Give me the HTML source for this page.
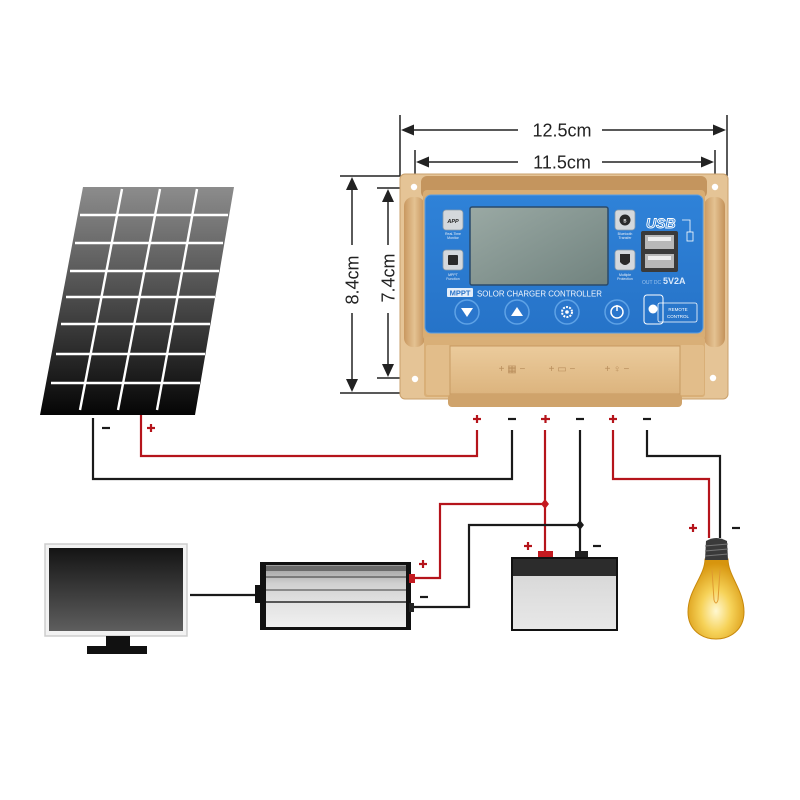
<!DOCTYPE html>
<html><head><meta charset="utf-8"><style>
html,body{margin:0;padding:0;background:#fff;}
svg{display:block;}
text{font-family:"Liberation Sans",sans-serif;}
</style></head><body>
<svg width="800" height="800" viewBox="0 0 800 800" xmlns="http://www.w3.org/2000/svg">
<defs>
<linearGradient id="pv" x1="0" y1="0" x2="0" y2="1">
<stop offset="0" stop-color="#8c8c8c"/><stop offset="0.5" stop-color="#4a4a4a"/><stop offset="1" stop-color="#050505"/>
</linearGradient>
<linearGradient id="scr" x1="0" y1="0" x2="0" y2="1">
<stop offset="0" stop-color="#141414"/><stop offset="1" stop-color="#5e5e5e"/>
</linearGradient>
<linearGradient id="blue" x1="0" y1="0" x2="0" y2="1">
<stop offset="0" stop-color="#2f82d8"/><stop offset="1" stop-color="#2673c8"/>
</linearGradient>
<linearGradient id="lcd" x1="0" y1="0" x2="1" y2="1">
<stop offset="0" stop-color="#9aa9a4"/><stop offset="1" stop-color="#71837f"/>
</linearGradient>
<linearGradient id="gold" x1="0" y1="0" x2="0" y2="1">
<stop offset="0" stop-color="#e6c699"/><stop offset="1" stop-color="#d4a86e"/>
</linearGradient>
<linearGradient id="cover" x1="0" y1="0" x2="0" y2="1">
<stop offset="0" stop-color="#ebcb9c"/><stop offset="1" stop-color="#dcb47e"/>
</linearGradient>
<linearGradient id="bar" x1="0" y1="0" x2="1" y2="0">
<stop offset="0" stop-color="#c99860"/><stop offset="0.5" stop-color="#e4c292"/><stop offset="1" stop-color="#c4925a"/>
</linearGradient>
<linearGradient id="batt" x1="0" y1="0" x2="0" y2="1">
<stop offset="0" stop-color="#d4d4d4"/><stop offset="1" stop-color="#e8e8e8"/>
</linearGradient>
<linearGradient id="inv" x1="0" y1="0" x2="0" y2="1">
<stop offset="0" stop-color="#9a9a9a"/><stop offset="0.3" stop-color="#d0d0d0"/><stop offset="0.6" stop-color="#e2e2e2"/><stop offset="1" stop-color="#f0f0f0"/>
</linearGradient>
<radialGradient id="bulb" cx="0.5" cy="0.65" r="0.6">
<stop offset="0" stop-color="#fff8d0"/><stop offset="0.45" stop-color="#f6d258"/><stop offset="1" stop-color="#d7950e"/>
</radialGradient>
</defs>

<!-- ===== Solar panel ===== -->
<polygon points="83,187 234,187 195,415 40,415" fill="url(#pv)"/>
<g stroke="#fff" stroke-width="2.4">
<line x1="80" y1="215" x2="228" y2="215"/>
<line x1="75" y1="243" x2="223" y2="243"/>
<line x1="70" y1="271" x2="219" y2="271"/>
<line x1="66" y1="297" x2="215" y2="297"/>
<line x1="61" y1="324" x2="210" y2="324"/>
<line x1="56" y1="354" x2="205" y2="354"/>
<line x1="51" y1="383" x2="200" y2="383"/>
<line x1="122" y1="189" x2="80" y2="410"/>
<line x1="160" y1="189" x2="118" y2="410"/>
<line x1="197" y1="189" x2="157" y2="410"/>
</g>

<!-- ===== Dimension lines ===== -->
<g stroke="#222" stroke-width="1.5" fill="none">
<polyline points="400,115 400,176 340,176"/>
<line x1="727" y1="115" x2="727" y2="176"/>
<polyline points="415,150 415,188 377,188"/>
<line x1="715" y1="150" x2="715" y2="186"/>
<line x1="340" y1="393" x2="423" y2="393"/>
<line x1="377" y1="378" x2="412" y2="378"/>
<line x1="410" y1="130" x2="518" y2="130"/><line x1="602" y1="130" x2="718" y2="130"/>
<line x1="424" y1="162" x2="518" y2="162"/><line x1="602" y1="162" x2="706" y2="162"/>
<line x1="352" y1="186" x2="352" y2="245"/><line x1="352" y1="313" x2="352" y2="383"/>
<line x1="388" y1="198" x2="388" y2="245"/><line x1="388" y1="313" x2="388" y2="368"/>
</g>
<g fill="#222">
<polygon points="401,130 414,124.5 414,135.5"/>
<polygon points="726,130 713,124.5 713,135.5"/>
<polygon points="416,162 429,156.5 429,167.5"/>
<polygon points="714,162 701,156.5 701,167.5"/>
<polygon points="352,177 346,190 358,190"/>
<polygon points="352,392 346,379 358,379"/>
<polygon points="388,189 382,202 394,202"/>
<polygon points="388,377 382,364 394,364"/>
</g>
<g font-size="18" fill="#222" text-anchor="middle">
<text x="562" y="136.5">12.5cm</text>
<text x="562" y="168.5">11.5cm</text>
<text transform="translate(358.5,280) rotate(-90)">8.4cm</text>
<text transform="translate(394.5,278) rotate(-90)">7.4cm</text>
</g>

<!-- ===== Controller ===== -->
<rect x="400" y="174" width="328" height="225" rx="5" fill="#e5c496" stroke="#c9a06c" stroke-width="1"/>
<rect x="404" y="197" width="21" height="150" rx="9" fill="url(#bar)"/>
<rect x="704" y="197" width="21" height="150" rx="9" fill="url(#bar)"/>
<rect x="421" y="176" width="286" height="22" rx="6" fill="#c4955e"/>
<rect x="423" y="190" width="282" height="150" rx="4" fill="#d8ad74"/>
<rect x="425" y="195" width="278" height="138" rx="6" fill="url(#blue)" stroke="#5a9ee4" stroke-width="1"/>
<!-- LCD -->
<rect x="470" y="207" width="138" height="78" rx="2" fill="url(#lcd)" stroke="#2a4a6a" stroke-width="1.5"/>
<!-- left buttons -->
<rect x="443" y="210" width="20" height="20" rx="3" fill="#d4d8dc" stroke="#8a9aa8" stroke-width="0.8"/>
<text x="453" y="223" font-size="5.5" font-weight="bold" font-style="italic" fill="#222" text-anchor="middle">APP</text>
<text x="453" y="235" font-size="3.5" fill="#e8eef6" text-anchor="middle">Real-Time</text>
<text x="453" y="239" font-size="3.5" fill="#e8eef6" text-anchor="middle">Monitor</text>
<rect x="443" y="250" width="20" height="20" rx="3" fill="#d4d8dc" stroke="#8a9aa8" stroke-width="0.8"/>
<rect x="448" y="255" width="10" height="10" rx="1" fill="#2a2a2a"/>
<text x="453" y="276" font-size="3.5" fill="#e8eef6" text-anchor="middle">MPPT</text>
<text x="453" y="280" font-size="3.5" fill="#e8eef6" text-anchor="middle">Function</text>
<!-- right buttons -->
<rect x="615" y="210" width="20" height="20" rx="3" fill="#d4d8dc" stroke="#8a9aa8" stroke-width="0.8"/>
<circle cx="625" cy="220" r="5.5" fill="#2a2a2a"/><text x="625" y="222.5" font-size="6" fill="#fff" text-anchor="middle">ʙ</text>
<text x="625" y="235" font-size="3.5" fill="#e8eef6" text-anchor="middle">Bluetooth</text>
<text x="625" y="239" font-size="3.5" fill="#e8eef6" text-anchor="middle">Transfer</text>
<rect x="615" y="250" width="20" height="20" rx="3" fill="#d4d8dc" stroke="#8a9aa8" stroke-width="0.8"/>
<path d="M620,254 L630,254 L630,262 Q625,268 620,262 Z" fill="#2a2a2a"/>
<text x="625" y="276" font-size="3.5" fill="#e8eef6" text-anchor="middle">Multiple</text>
<text x="625" y="280" font-size="3.5" fill="#e8eef6" text-anchor="middle">Protection</text>
<!-- USB -->
<text x="646" y="228" font-size="14" font-style="italic" font-weight="bold" fill="none" stroke="#fff" stroke-width="0.9">USB</text>
<polyline points="682,220 690,220 690,232" fill="none" stroke="#fff" stroke-width="0.8"/>
<rect x="687" y="232" width="6" height="9" fill="none" stroke="#fff" stroke-width="0.8"/>
<rect x="641" y="231" width="37" height="41" rx="2" fill="#3a3a3a"/>
<rect x="645" y="235" width="29" height="14" fill="#b8b8b8"/><rect x="648" y="237" width="23" height="4" fill="#eee"/>
<rect x="645" y="254" width="29" height="14" fill="#b8b8b8"/><rect x="648" y="256" width="23" height="4" fill="#eee"/>
<text x="642" y="284" font-size="5" fill="#9cc4ee">OUT DC</text>
<text x="663" y="284" font-size="9" font-weight="bold" fill="#dbe9fa">5V2A</text>
<!-- MPPT title -->
<rect x="447" y="288" width="26" height="9" rx="1" fill="#e4eefa"/>
<text x="460" y="295.5" font-size="7.5" font-weight="bold" fill="#2a74c8" text-anchor="middle">MPPT</text>
<text x="477" y="296.5" font-size="8.5" fill="#f2f6fc" textLength="125" lengthAdjust="spacingAndGlyphs">SOLOR CHARGER CONTROLLER</text>
<!-- round buttons -->
<g>
<circle cx="467" cy="312" r="12" fill="#2a76cc" stroke="#5ea2e6" stroke-width="1.5"/>
<polygon points="461,308 473,308 467,317" fill="#fff"/>
<circle cx="517" cy="312" r="12" fill="#2a76cc" stroke="#5ea2e6" stroke-width="1.5"/>
<polygon points="511,316 523,316 517,307" fill="#fff"/>
<circle cx="567" cy="312" r="12" fill="#2a76cc" stroke="#5ea2e6" stroke-width="1.5"/>
<circle cx="567" cy="312" r="5" fill="none" stroke="#fff" stroke-width="2" stroke-dasharray="2,1.2"/>
<circle cx="567" cy="312" r="1.8" fill="#fff"/>
<circle cx="617" cy="312" r="12" fill="#2a76cc" stroke="#5ea2e6" stroke-width="1.5"/>
<circle cx="617" cy="312" r="6" fill="none" stroke="#fff" stroke-width="1.5"/>
<line x1="617" y1="305" x2="617" y2="311" stroke="#fff" stroke-width="1.5"/>
</g>
<!-- remote control -->
<rect x="644" y="295" width="19" height="29" rx="3" fill="none" stroke="#fff" stroke-width="1"/>
<rect x="658" y="303" width="39" height="19" rx="2" fill="none" stroke="#fff" stroke-width="0.8"/>
<circle cx="653" cy="309" r="4.5" fill="#fff"/>
<text x="678" y="311" font-size="4.5" fill="#fff" text-anchor="middle">REMOTE</text>
<text x="678" y="318" font-size="4.5" fill="#fff" text-anchor="middle">CONTROL</text>
<!-- lower part -->
<rect x="424" y="337" width="281" height="60" rx="3" fill="#d9af77"/>
<rect x="426" y="345" width="24" height="50" rx="2" fill="#e2bd8a"/>
<rect x="680" y="345" width="24" height="50" rx="2" fill="#e2bd8a"/>
<rect x="450" y="346" width="230" height="48" fill="url(#cover)" stroke="#c79a62" stroke-width="1"/>
<rect x="448" y="394" width="234" height="13" rx="4" fill="#cfa36b"/>
<g fill="#b98e5c" font-size="10" text-anchor="middle">
<text x="512" y="372">+ ▦ −</text>
<text x="562" y="372">+ ▭ −</text>
<text x="617" y="372">+ ♀ −</text>
</g>
<!-- holes -->
<g fill="#fff"><circle cx="414" cy="187" r="3.2"/><circle cx="715" cy="187" r="3.2"/><circle cx="415" cy="379" r="3.2"/><circle cx="713" cy="378" r="3.2"/></g>

<!-- ===== Wires ===== -->
<g fill="none" stroke-width="2.2" stroke-linejoin="miter">
<polyline points="93,418 93,479 512,479 512,430" stroke="#1a1a1a"/>
<polyline points="141,415 141,456 477,456 477,430" stroke="#b5141b"/>
<line x1="545" y1="430" x2="545" y2="552" stroke="#b5141b"/>
<polyline points="545,504 440,504 440,578 414,578" stroke="#b5141b"/>
<line x1="580" y1="430" x2="580" y2="552" stroke="#1a1a1a"/>
<polyline points="580,525 469,525 469,607 414,607" stroke="#1a1a1a"/>
<polyline points="613,430 613,479 709,479 709,538" stroke="#b5141b"/>
<polyline points="647,430 647,456 720,456 720,538" stroke="#1a1a1a"/>
<line x1="190" y1="595" x2="258" y2="595" stroke="#1a1a1a"/>
</g>
<polygon points="545,499 549,504 545,509 541,504" fill="#c41a20"/>
<polygon points="580,520 584,525 580,530 576,525" fill="#1a1a1a"/>

<!-- +/- labels -->
<g stroke-width="2.2">
<g stroke="#b5141b">
<line x1="147" y1="428" x2="155" y2="428"/><line x1="151" y1="424" x2="151" y2="432"/>
<line x1="473" y1="419" x2="481" y2="419"/><line x1="477" y1="415" x2="477" y2="423"/>
<line x1="541" y1="419" x2="550" y2="419"/><line x1="545.5" y1="415" x2="545.5" y2="423"/>
<line x1="609" y1="419" x2="617" y2="419"/><line x1="613" y1="415" x2="613" y2="423"/>
<line x1="524" y1="546" x2="532" y2="546"/><line x1="528" y1="542" x2="528" y2="550"/>
<line x1="419" y1="564" x2="427" y2="564"/><line x1="423" y1="560" x2="423" y2="568"/>
<line x1="689" y1="528" x2="697" y2="528"/><line x1="693" y1="524" x2="693" y2="532"/>
</g>
<g stroke="#1a1a1a">
<line x1="102" y1="428" x2="110" y2="428"/>
<line x1="508" y1="419" x2="516" y2="419"/>
<line x1="576" y1="419" x2="584" y2="419"/>
<line x1="643" y1="419" x2="651" y2="419"/>
<line x1="593" y1="546" x2="601" y2="546"/>
<line x1="420" y1="597" x2="428" y2="597"/>
<line x1="732" y1="528" x2="740" y2="528"/>
</g>
</g>

<!-- ===== Monitor ===== -->
<rect x="45" y="544" width="142" height="92" fill="#f2f2f2" stroke="#cdcdcd" stroke-width="1.5"/>
<rect x="49" y="548" width="134" height="83" fill="url(#scr)"/>
<rect x="106" y="636" width="24" height="11" fill="#111"/>
<rect x="87" y="646" width="60" height="8" fill="#111"/>

<!-- ===== Inverter ===== -->
<rect x="255" y="585" width="7" height="18" fill="#111"/>
<rect x="260" y="562" width="151" height="68" fill="#111"/>
<rect x="266" y="565" width="140" height="62" fill="url(#inv)"/>
<rect x="266" y="566" width="140" height="5" fill="#6a6a6a"/>
<rect x="266" y="576" width="140" height="2" fill="#7a7a7a"/>
<rect x="266" y="589" width="140" height="2" fill="#8a8a8a"/>
<rect x="266" y="601" width="140" height="2" fill="#555"/>
<rect x="409" y="574" width="6" height="9" fill="#c41a20"/>
<rect x="409" y="603" width="5" height="9" fill="#222"/>

<!-- ===== Battery ===== -->
<rect x="538" y="551" width="15" height="8" fill="#c41a20"/>
<rect x="575" y="551" width="13" height="8" fill="#222"/>
<rect x="512" y="558" width="105" height="72" fill="url(#batt)" stroke="#111" stroke-width="2"/>
<rect x="513" y="559" width="103" height="17" fill="#2c2c2c"/>

<!-- ===== Bulb ===== -->
<path d="M705,559 C705,576 688,590 688,612 C688,630 702,639 716,639 C730,639 744,630 744,612 C744,590 728,576 728,559 Z" fill="url(#bulb)" stroke="#c8890c" stroke-width="1"/>
<path d="M712,570 L714,600 M720,570 L718,600 M714,600 Q716,606 718,600" stroke="#e09a30" stroke-width="1" fill="none"/>
<path d="M706,541 Q716,535 727,541 L728,560 L705,560 Z" fill="#3a3a3a"/>
<g stroke="#777" stroke-width="1"><line x1="705" y1="546" x2="728" y2="544"/><line x1="705" y1="551" x2="728" y2="549"/><line x1="705" y1="556" x2="728" y2="554"/></g>
</svg>
</body></html>
